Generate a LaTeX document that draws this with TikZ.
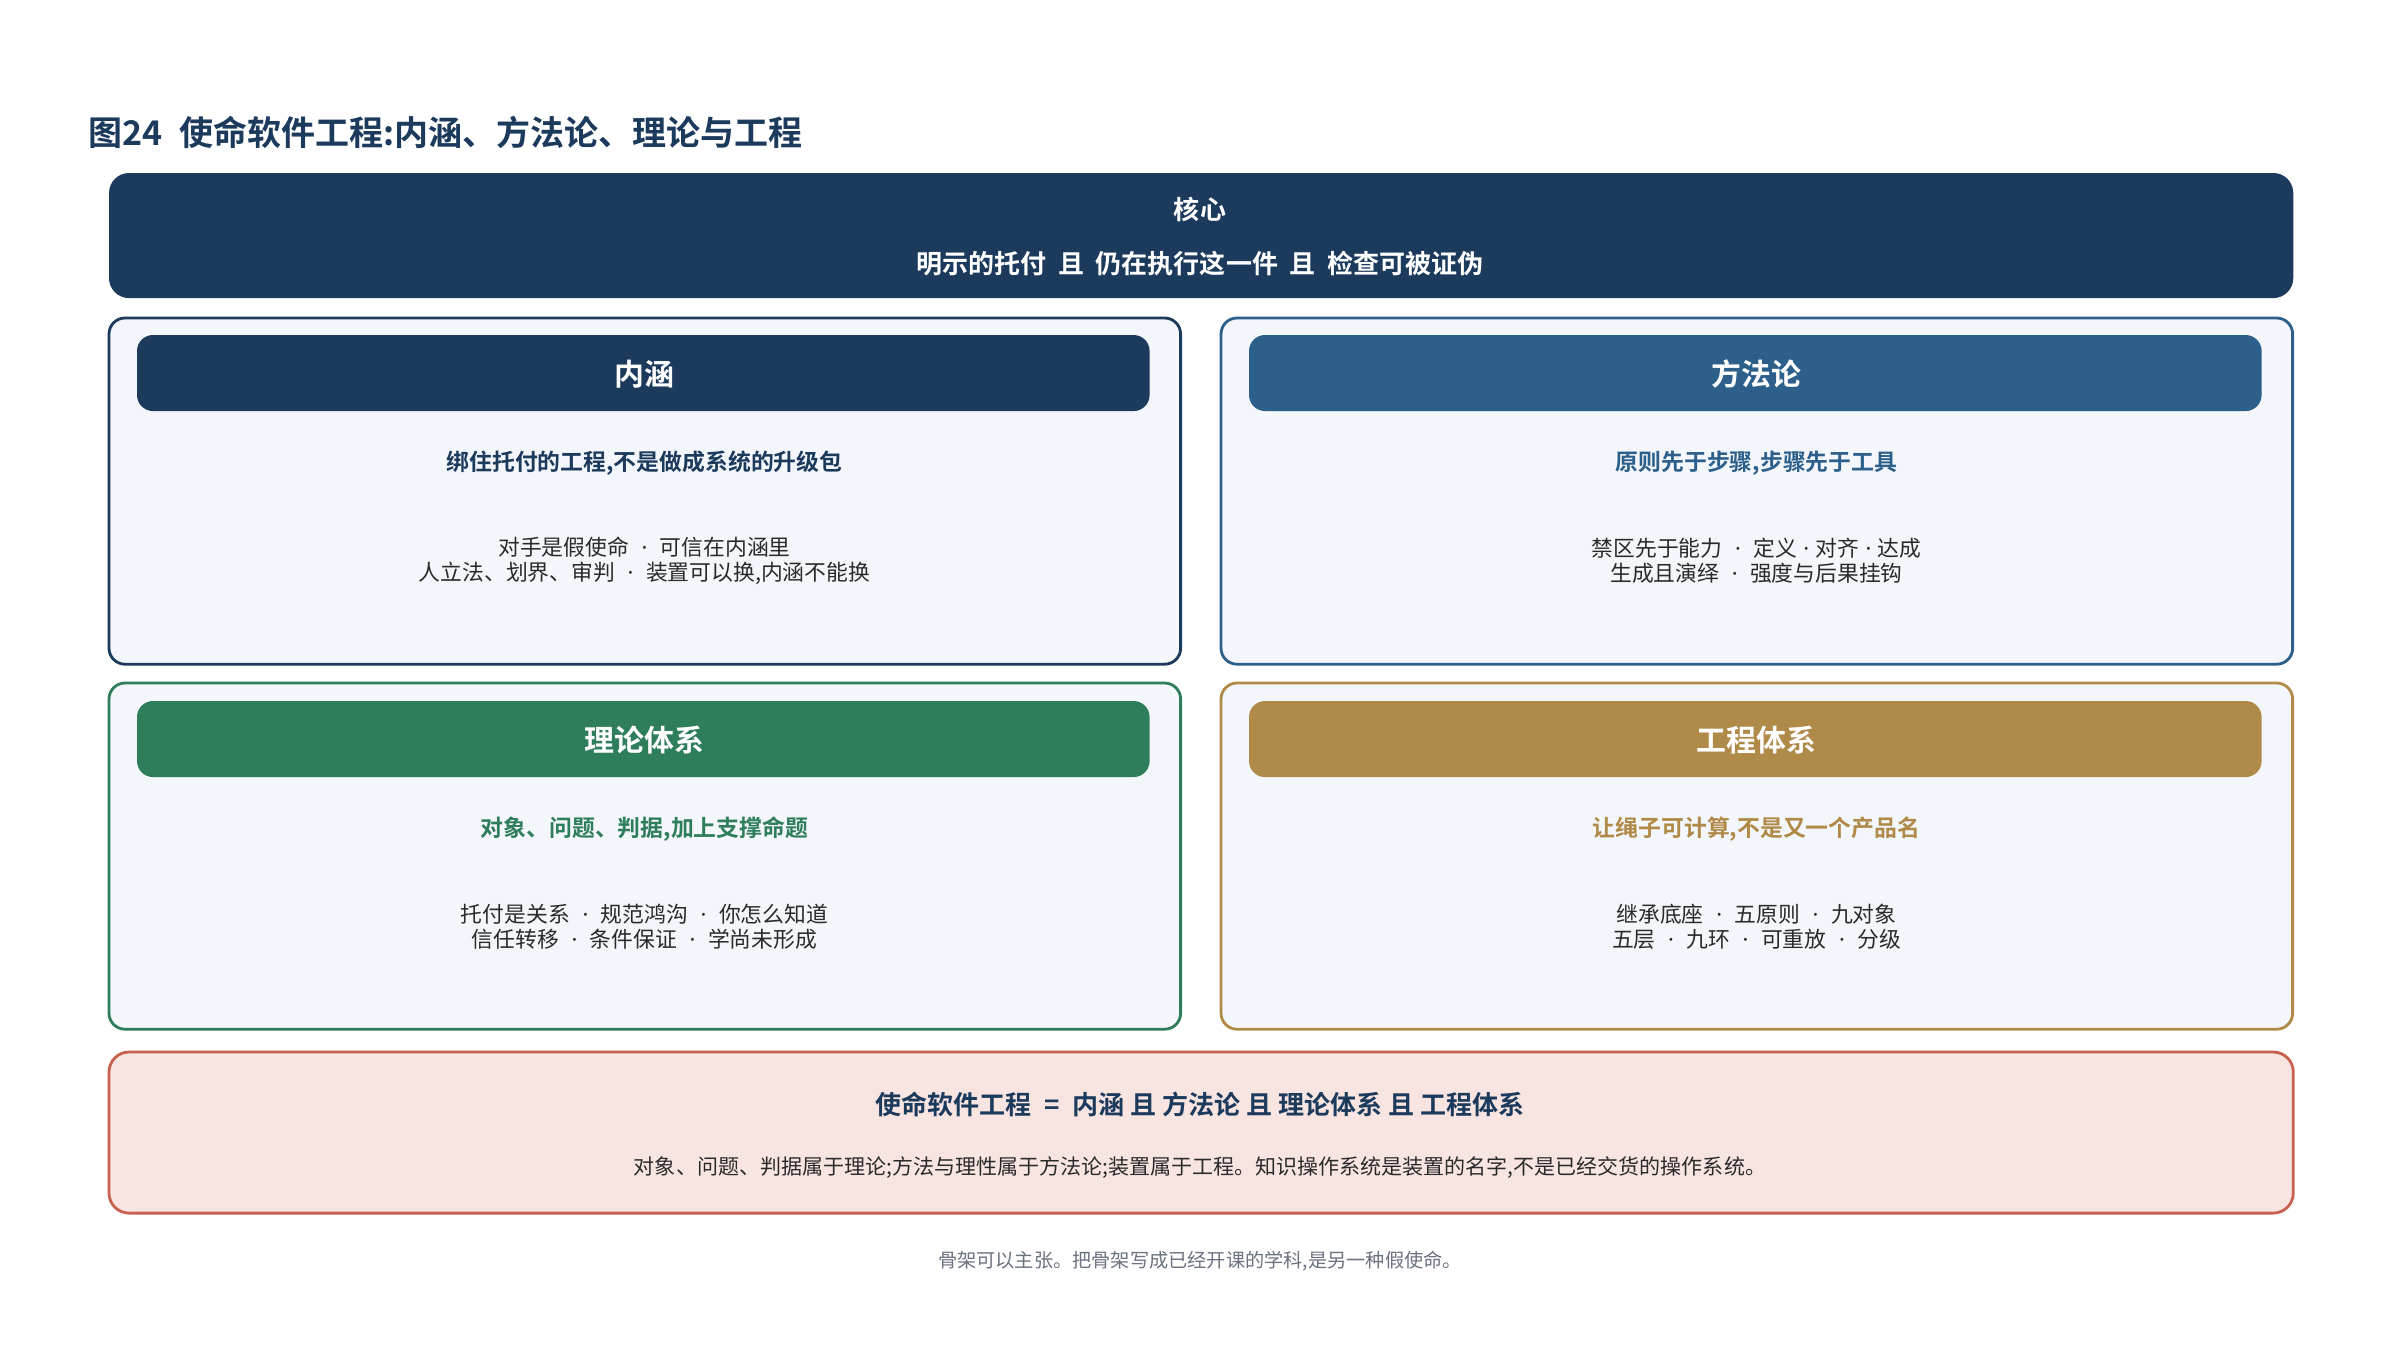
\documentclass[tikz,border=0pt]{standalone}
\usepackage{fontspec}
\setmainfont{Noto Sans CJK SC}[BoldFont={Noto Sans CJK SC Bold}]
\newfontfamily\latinfont{Noto Sans}
\definecolor{navy}{HTML}{1B3A5C}
\definecolor{steel}{HTML}{2C5F8A}
\definecolor{grn}{HTML}{2E7D5B}
\definecolor{gold}{HTML}{B08A48}
\definecolor{panelfill}{HTML}{F3F6FA}
\definecolor{pinkfill}{HTML}{F8E5E2}
\definecolor{redline}{HTML}{C8614F}
\definecolor{bodytxt}{HTML}{2A2A2A}
\definecolor{footgray}{HTML}{6B7280}
\newcommand{\fs}[2]{\fontsize{#1}{#2}\selectfont}
\newcommand{\sd}{\hspace{0.575em}{\latinfont ·}\hspace{0.575em}}
\newcommand{\idt}{\hspace{0.29em}{\latinfont ·}\hspace{0.29em}}
\begin{document}
\begin{tikzpicture}[x=0.01cm,y=-0.01cm,
  every node/.style={inner sep=0pt,outer sep=0pt},
  panelbox/.style={draw=#1,fill=panelfill,line width=0.8pt,rounded corners=0.16cm,
     minimum width=10.71cm,minimum height=3.46cm,anchor=north west},
  hdrbar/.style={fill=#1,rounded corners=0.16cm,minimum width=10.12cm,minimum height=0.76cm,anchor=north west},
  hdrtxt/.style={text=white,font=\bfseries\fs{8.5pt}{10pt}},
  subtxt/.style={text=#1,font=\bfseries\fs{6.5pt}{7.5pt}},
  bodyt/.style={text=bodytxt,align=center,font=\fs{6.2pt}{7.1pt}}]
\useasboundingbox[fill=white] (0,0) rectangle (2400,1357);
% title
\node[anchor=west,text=navy,font=\bfseries\fs{9.67pt}{11pt}] (title) at (88,132) {图24\hspace{0.5em}使命软件工程:内涵、方法论、理论与工程};
% core
\node[fill=navy,rounded corners=0.2cm,minimum width=21.83cm,minimum height=1.25cm,anchor=north west] (core) at (109,173) {};
\node[text=white,font=\bfseries\fs{7.4pt}{9pt}] (coret) at (1200,209) {核心};
\node[text=white,font=\bfseries\fs{7.4pt}{9pt}] (corel) at (1200,264) {明示的托付\hspace{0.45em}且\hspace{0.45em}仍在执行这一件\hspace{0.45em}且\hspace{0.45em}检查可被证伪};
% panel 1
\node[panelbox=navy] (p1) at (109,318) {};
\node[hdrbar=navy] (h1) at (137,335) {};
\node[hdrtxt] (h1t) at (644.5,374) {内涵};
\node[subtxt=navy] (s1) at (644.5,463) {绑住托付的工程,不是做成系统的升级包};
\node[bodyt] (b1) at (644.5,561) {对手是假使命\sd 可信在内涵里\\人立法、划界、审判\sd 装置可以换,内涵不能换};
% panel 2
\node[panelbox=steel] (p2) at (1221,318) {};
\node[hdrbar=steel] (h2) at (1249,335) {};
\node[hdrtxt] (h2t) at (1756.5,374) {方法论};
\node[subtxt=steel] (s2) at (1756.5,463) {原则先于步骤,步骤先于工具};
\node[bodyt] (b2) at (1756.5,561) {禁区先于能力\sd 定义\idt 对齐\idt 达成\\生成且演绎\sd 强度与后果挂钩};
% panel 3
\node[panelbox=grn] (p3) at (109,683) {};
\node[hdrbar=grn] (h3) at (137,701) {};
\node[hdrtxt] (h3t) at (644.5,740) {理论体系};
\node[subtxt=grn] (s3) at (644.5,829) {对象、问题、判据,加上支撑命题};
\node[bodyt] (b3) at (644.5,927) {托付是关系\sd 规范鸿沟\sd 你怎么知道\\信任转移\sd 条件保证\sd 学尚未形成};
% panel 4
\node[panelbox=gold] (p4) at (1221,683) {};
\node[hdrbar=gold] (h4) at (1249,701) {};
\node[hdrtxt] (h4t) at (1756.5,740) {工程体系};
\node[subtxt=gold] (s4) at (1756.5,829) {让绳子可计算,不是又一个产品名};
\node[bodyt] (b4) at (1756.5,927) {继承底座\sd 五原则\sd 九对象\\五层\sd 九环\sd 可重放\sd 分级};
% bottom
\node[draw=redline,fill=pinkfill,line width=0.8pt,rounded corners=0.2cm,minimum width=21.83cm,minimum height=1.61cm,anchor=north west] (bot) at (109,1052) {};
\node[text=navy,font=\bfseries\fs{7.4pt}{9pt}] (bott) at (1200,1104) {使命软件工程\hspace{0.5em}=\hspace{0.5em}内涵 且 方法论 且 理论体系 且 工程体系};
\node[text=bodytxt,font=\fs{5.98pt}{7pt}] (botl) at (1200,1168) {对象、问题、判据属于理论;方法与理性属于方法论;装置属于工程。知识操作系统是装置的名字,不是已经交货的操作系统。};
% footer
\node[text=footgray,font=\fs{5.46pt}{6.5pt}] (foot) at (1200,1261) {骨架可以主张。把骨架写成已经开课的学科,是另一种假使命。};
\end{tikzpicture}
\end{document}
